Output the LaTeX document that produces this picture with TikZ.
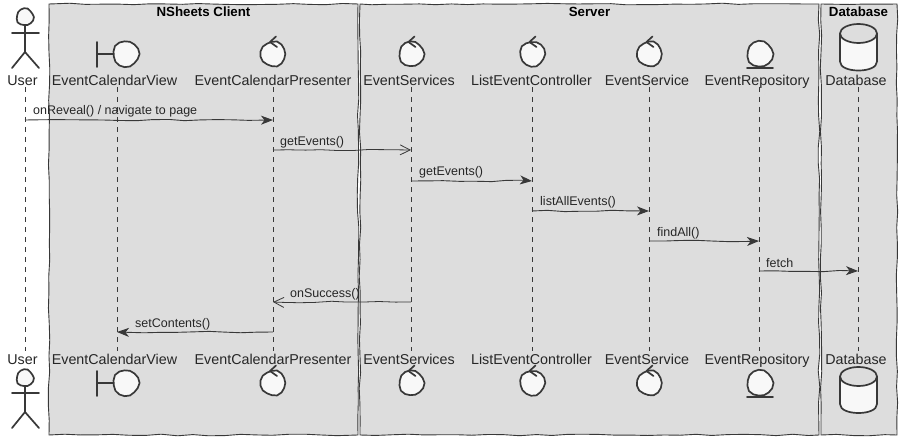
\documentclass[tikz,border=0pt]{standalone}
\usepackage{fontspec}
\setmainfont{Liberation Sans}
\usetikzlibrary{arrows.meta,decorations.pathmorphing,calc}
\definecolor{ink}{HTML}{383838}
\definecolor{boxgray}{HTML}{DDDDDD}
\definecolor{iconfill}{HTML}{F8F8F8}
\tikzset{
  x=1pt,y=-1pt,
  wob/.style={decorate,decoration={random steps,segment length=16pt,amplitude=0.8pt}},
  groupbox/.style={draw=ink,fill=boxgray,line width=0.9pt,wob},
  grouptitle/.style={font=\fontsize{13.3}{15}\selectfont\bfseries,text=black,inner sep=0pt,anchor=center},
  partlabel/.style={font=\fontsize{14.3}{16}\selectfont,text=black!85,inner sep=0pt,anchor=base,text height=13pt,text depth=3pt},
  lifeline/.style={draw=ink,line width=0.8pt,dash pattern=on 5pt off 5pt},
  icon/.style={draw=ink,fill=iconfill,line width=1.7pt,line join=round},
  iconline/.style={draw=ink,line width=1.7pt,line cap=round},
  msglabel/.style={font=\fontsize{12.5}{14}\selectfont,text=black!85,inner sep=0pt,anchor=west},
  syncmsg/.style={draw=ink,line width=0.9pt,wob,-{Stealth[length=12pt,width=9pt,inset=3.5pt,fill=ink]}},
  asyncmsg/.style={draw=ink,line width=0.8pt,wob,-{Straight Barb[length=10pt,width=10pt]}},
}
\newcommand{\roughcircle}[3]{% x, y, radius: closed, slightly uneven outline
  \draw[icon,shift={(#1,#2)}] plot[domain=0:336,samples=15] (\x:{#3+0.45*sin(3*\x+#1)+0.25*cos(5*\x)}) -- cycle;
}
\newcommand{\actoricon}[5]{% x, head y, arms y, hip y, foot y
  \roughcircle{#1}{#2}{8.5}
  \draw[iconline] (#1,#2+8.5) -- (#1,#4);
  \draw[iconline] (#1-13,#3) -- (#1+14,#3);
  \draw[iconline] (#1-13,#5) -- (#1,#4) -- (#1+14,#5);
}
\newcommand{\boundaryicon}[2]{% circle centre x,y
  \draw[iconline] (#1-29,#2-12) -- (#1-29,#2+13);
  \draw[iconline] (#1-29,#2) -- (#1-13,#2);
  \roughcircle{#1}{#2}{13}
}
\newcommand{\controlicon}[2]{% centre x,y
  \roughcircle{#1}{#2}{12.5}
  \draw[iconline,line join=round] (#1+3,#2-17.5) -- (#1-3,#2-12) -- (#1+4,#2-7);
}
\newcommand{\entityicon}[3]{% centre x,y, line y
  \roughcircle{#1}{#2}{13}
  \draw[iconline] (#1-13,#3) -- (#1+13,#3);
}
\newcommand{\dbicon}[4]{% top ellipse centre y, bottom y, x-left, x-right
  \draw[icon] (#3,#1) arc[start angle=180,end angle=0,x radius=18.5,y radius=9.5]
     -- (#4,#2-9) .. controls (#4,#2-3) and (#3+28,#2) .. ($(#3,#2)!0.5!(#4,#2)$)
     .. controls (#3+9,#2) and (#3,#2-3) .. (#3,#2-9) -- cycle;
  \draw[iconline] (#3,#1) arc[start angle=180,end angle=360,x radius=18.5,y radius=9.5];
}
\begin{document}
\begin{tikzpicture}
\pgfmathsetseed{7}
\useasboundingbox (0,0) rectangle (906,444);
\fill[white] (0,0) rectangle (906,444);
% group boxes
\draw[groupbox] (49,4) rectangle (358,435);
\draw[groupbox] (360,4) rectangle (819,435);
\draw[groupbox] (821,4) rectangle (897,435);
\node[grouptitle] (tclient) at (203.5,12) {NSheets Client};
\node[grouptitle] (tserver) at (589.5,12) {Server};
\node[grouptitle] (tdb) at (858.5,12) {Database};
% top labels
\node[partlabel] (u1) at (22.5,85) {User};
\node[partlabel] (v1) at (114.5,85) {EventCalendarView};
\node[partlabel] (p1) at (273,85) {EventCalendarPresenter};
\node[partlabel] (s1) at (409,85) {EventServices};
\node[partlabel] (c1) at (531.5,85) {ListEventController};
\node[partlabel] (e1) at (647,85) {EventService};
\node[partlabel] (r1) at (757,85) {EventRepository};
\node[partlabel] (d1) at (856,85) {Database};
% bottom labels
\node[partlabel] (u2) at (22.5,364) {User};
\node[partlabel] (v2) at (114.5,364) {EventCalendarView};
\node[partlabel] (p2) at (273,364) {EventCalendarPresenter};
\node[partlabel] (s2) at (409,364) {EventServices};
\node[partlabel] (c2) at (531.5,364) {ListEventController};
\node[partlabel] (e2) at (647,364) {EventService};
\node[partlabel] (r2) at (757,364) {EventRepository};
\node[partlabel] (d2) at (856,364) {Database};
% lifelines
\foreach \n/\xx in {u/25,v/117,p/273,s/411,c/532,e/649,r/759,d/858}{
  \coordinate (\n t) at (\xx,87);
  \coordinate (\n b) at (\xx,351);
}
\foreach \n in {u,v,p,s,c,e,r,d}{
  \draw[lifeline] (\n t) -- (\n b);
}
% icons
\actoricon{25}{17}{33}{52}{68}
\actoricon{25}{378}{393}{412}{428}
\boundaryicon{126}{54}
\boundaryicon{126}{383}
\controlicon{273}{54}
\controlicon{273}{383}
\controlicon{411.5}{54}
\controlicon{411.5}{383}
\controlicon{532.5}{54}
\controlicon{532.5}{383}
\controlicon{649.5}{54}
\controlicon{649.5}{383}
\entityicon{760}{54}{68}
\entityicon{760}{383}{397}
\dbicon{33.5}{70.5}{840}{877}
\dbicon{376.5}{413}{840}{877}
% messages
\coordinate (m1a) at (ut |- 0,120);  \coordinate (m1b) at (pt |- 0,120);
\coordinate (m2a) at (pt |- 0,150);  \coordinate (m2b) at (st |- 0,150);
\coordinate (m3a) at (st |- 0,181);  \coordinate (m3b) at (ct |- 0,181);
\coordinate (m4a) at (ct |- 0,211);  \coordinate (m4b) at (et |- 0,211);
\coordinate (m5a) at (et |- 0,241);  \coordinate (m5b) at (rt |- 0,241);
\coordinate (m6a) at (rt |- 0,271);  \coordinate (m6b) at (dt |- 0,271);
\coordinate (m7a) at (st |- 0,302);  \coordinate (m7b) at (pt |- 0,302);
\coordinate (m8a) at (pt |- 0,332);  \coordinate (m8b) at (vt |- 0,332);
\draw[syncmsg] (m1a) -- (m1b);
\draw[asyncmsg] (m2a) -- (m2b);
\draw[syncmsg] (m3a) -- (m3b);
\draw[syncmsg] (m4a) -- (m4b);
\draw[syncmsg] (m5a) -- (m5b);
\draw[syncmsg] (m6a) -- (m6b);
\draw[asyncmsg] (m7a) -- (m7b);
\draw[syncmsg] (m8a) -- (m8b);
\node[msglabel] (l1) at (33,111.5) {onReveal() / navigate to page};
\node[msglabel] (l2) at (280,142.5) {getEvents()};
\node[msglabel] (l3) at (419,172.5) {getEvents()};
\node[msglabel] (l4) at (540,202.5) {listAllEvents()};
\node[msglabel] (l5) at (657,233.5) {findAll()};
\node[msglabel] (l6) at (766,263.5) {fetch};
\node[msglabel] (l7) at (290,294.5) {onSuccess()};
\node[msglabel] (l8) at (135,324.5) {setContents()};
\end{tikzpicture}
\end{document}
